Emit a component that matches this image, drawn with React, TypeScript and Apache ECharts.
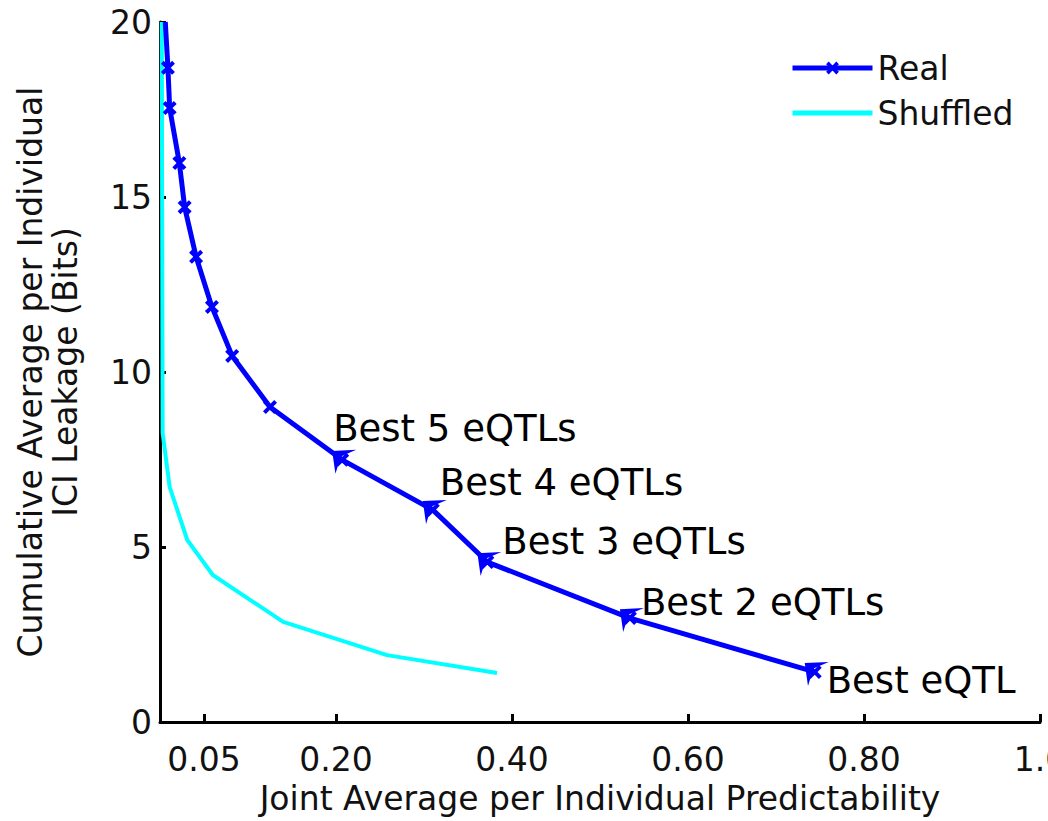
import React, { useEffect, useRef } from "react";
import * as echarts from "echarts";

// ---- data ----
const realX = [0.006, 0.009, 0.011, 0.022, 0.028, 0.041, 0.059, 0.082, 0.125, 0.207, 0.31, 0.372, 0.534, 0.744];
const realY = [20.0, 18.69, 17.54, 15.97, 14.71, 13.29, 11.86, 10.46, 9.0, 7.49, 6.06, 4.57, 2.97, 1.43];

const shuffledX = [0.002, 0.003, 0.011, 0.031, 0.06, 0.14, 0.258, 0.383];
const shuffledY = [20.0, 8.26, 6.71, 5.2, 4.2, 2.86, 1.91, 1.4];

const bestNames = ["Best 5 eQTLs", "Best 4 eQTLs", "Best 3 eQTLs", "Best 2 eQTLs", "Best eQTL"];
const bestX = [0.207, 0.31, 0.372, 0.534, 0.744];
const bestY = [7.49, 6.06, 4.57, 2.97, 1.43];

const xTicks = [0.05, 0.2, 0.4, 0.6, 0.8, 1.0];
const xTickLabels = ["0.05", "0.20", "0.40", "0.60", "0.80", "1.0"];

const seriesNames = ["Real", "Shuffled"];
const xAxisName = "Joint Average per Individual Predictability";
const yAxisName = "Cumulative Average per Individual\nICI Leakage (Bits)";

// ---- styling ----
const FONT = "'DejaVu Sans', Arial, sans-serif";
const labelOffsets: [number, number][] = [
  [-11, -33],
  [5, -29],
  [13, -23],
  [9, -18],
  [10, 7],
];
const crossPath =
  "path://M0,2 L2,0 L5,3 L8,0 L10,2 L7,5 L10,8 L8,10 L5,7 L2,10 L0,8 L3,5 Z";
const arrowPath = "path://M0,1 L22,0 L8,6 L3,22 Z";
const flatLinePath = "path://M0,0 L80,0 L80,5 L0,5 Z";

export default function App() {
  const ref = useRef<HTMLDivElement>(null);
  useEffect(() => {
    document.body.style.margin = "0";
    if (!ref.current) return;
    const chart = echarts.init(ref.current, undefined, { renderer: "svg" });

    const realData = realX.map((x, i) =>
      i === 0 ? { value: [x, realY[i]], symbol: "none" } : { value: [x, realY[i]] }
    );
    const shuffledData = shuffledX.map((x, i) => [x, shuffledY[i]]);
    const bestData = bestX.map((x, i) => ({
      value: [x, bestY[i]],
      name: bestNames[i],
      label: { offset: labelOffsets[i] },
    }));

    chart.setOption({
      animation: false,
      backgroundColor: "#fff",
      textStyle: { fontFamily: FONT },
      grid: { left: 160, right: 8, top: 22, bottom: 99, containLabel: false, outerBoundsMode: "none" },
      legend: {
        orient: "vertical",
        left: 790,
        top: 48,
        padding: 0,
        itemWidth: 80,
        itemHeight: 16,
        itemGap: 5,
        lineStyle: { width: 5 },
        data: [
          { name: seriesNames[0] },
          { name: seriesNames[1], icon: flatLinePath },
        ],
        textStyle: { fontSize: 33, lineHeight: 40, color: "#111", fontFamily: FONT },
      },
      xAxis: {
        type: "value",
        min: 0,
        max: 1,
        name: xAxisName,
        nameLocation: "middle",
        nameGap: 60,
        nameTextStyle: { fontSize: 33, color: "#111", fontFamily: FONT },
        axisLine: { show: true, lineStyle: { color: "#000", width: 3 } },
        axisTick: {
          show: true,
          inside: true,
          length: 8,
          lineStyle: { color: "#000", width: 3 },
          customValues: xTicks,
        },
        axisLabel: {
          fontSize: 33,
          color: "#111",
          margin: 21,
          fontFamily: FONT,
          customValues: xTicks,
          formatter: (v: number) => {
            let best = 0;
            xTicks.forEach((t, i) => {
              if (Math.abs(t - v) < Math.abs(xTicks[best] - v)) best = i;
            });
            return xTickLabels[best];
          },
        },
        splitLine: { show: false },
      },
      yAxis: {
        type: "value",
        min: 0,
        max: 20,
        interval: 5,
        name: yAxisName,
        nameLocation: "middle",
        nameGap: 77,
        nameTextStyle: { fontSize: 33, lineHeight: 35, color: "#111", fontFamily: FONT },
        axisLine: { show: true, lineStyle: { color: "#000", width: 3 } },
        axisTick: { show: true, inside: true, length: 6, lineStyle: { color: "#000", width: 3 } },
        axisLabel: { fontSize: 33, color: "#111", margin: 8, fontFamily: FONT },
        splitLine: { show: false },
      },
      series: [
        {
          name: seriesNames[0],
          type: "line",
          data: realData,
          symbol: crossPath,
          symbolSize: 14,
          showAllSymbol: true,
          lineStyle: { color: "#0000ff", width: 5 },
          itemStyle: { color: "#0000ff" },
          z: 3,
        },
        {
          name: seriesNames[1],
          type: "line",
          data: shuffledData,
          symbol: "none",
          lineStyle: { color: "#00ffff", width: 4 },
          itemStyle: { color: "#00ffff" },
          z: 2,
        },
        {
          name: "annotations",
          type: "scatter",
          data: bestData,
          symbol: arrowPath,
          symbolSize: 24,
          symbolOffset: [2, 2],
          itemStyle: { color: "#0000ff", opacity: 1 },
          emphasis: { disabled: true },
          z: 4,
          label: {
            show: true,
            position: "inside",
            align: "left",
            verticalAlign: "middle",
            formatter: (p: any) => p.name,
            fontSize: 37,
            color: "#000",
            textBorderWidth: 0,
            textBorderColor: "transparent",
            fontFamily: FONT,
          },
        },
      ],
    });
    return () => chart.dispose();
  }, []);
  return <div ref={ref} style={{ width: 1048, height: 821 }} />;
}
